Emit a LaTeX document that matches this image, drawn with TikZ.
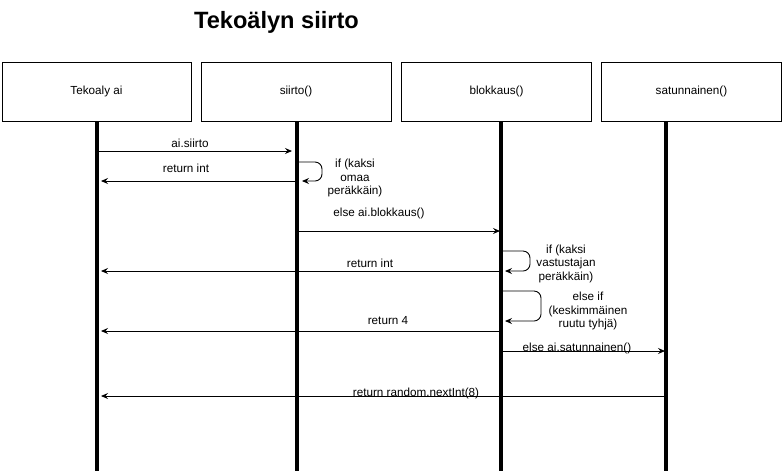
\documentclass[tikz,border=0pt]{standalone}
\usepackage{fontspec}
\setmainfont{Liberation Sans}
\usetikzlibrary{arrows.meta}
\begin{document}
\begin{tikzpicture}[x=1pt,y=-1pt,
  lbl/.style={font=\fontsize{11.7}{13.5}\selectfont, inner sep=0pt, align=center},
  objbox/.style={draw, line width=1pt, minimum height=59pt, inner sep=0pt, font=\fontsize{11.7}{13.5}\selectfont},
  life/.style={line width=3.6pt},
  msg/.style={line width=0.9pt, -{Stealth[length=7pt,width=6pt,inset=2.5pt]}},
  selfmsg/.style={line width=0.9pt, rounded corners=7pt, -{Stealth[length=7pt,width=6pt,inset=2.5pt]}}
]
\useasboundingbox (0,0) rectangle (783,475);
\node[font=\bfseries\fontsize{23.6}{28}\selectfont, inner sep=0pt] (title) at (276.5,22) {Tekoälyn siirto};
\node[objbox, minimum width=189pt] (b1) at (96.5,91.5) {Tekoaly ai};
\node[objbox, minimum width=190pt] (b2) at (296,91.5) {siirto()};
\node[objbox, minimum width=190pt] (b3) at (496.5,91.5) {blokkaus()};
\node[objbox, minimum width=180pt] (b4) at (691.5,91.5) {satunnainen()};
% lifelines
\coordinate (l1e) at (97,471);
\coordinate (l2e) at (297,471);
\coordinate (l3e) at (501,471);
\coordinate (l4e) at (666,471);
\draw[life] (b1.south -| l1e) -- (l1e);
\draw[life] (b2.south -| l2e) -- (l2e);
\draw[life] (b3.south -| l3e) -- (l3e);
\draw[life] (b4.south -| l4e) -- (l4e);
% message end points
\coordinate (m1a) at (99,151); \coordinate (m1b) at (292,151);
\coordinate (m2a) at (295,181); \coordinate (m2b) at (101,181);
\coordinate (s1a) at (299,162); \coordinate (s1c) at (322,181); \coordinate (s1b) at (302,181);
\coordinate (m3a) at (299,231); \coordinate (m3b) at (500,231);
\coordinate (s2a) at (503,251); \coordinate (s2c) at (530,271); \coordinate (s2b) at (505,271);
\coordinate (m4a) at (499,271); \coordinate (m4b) at (101,271);
\coordinate (s3a) at (503,291); \coordinate (s3c) at (541,321); \coordinate (s3b) at (505,321);
\coordinate (m5a) at (499,331); \coordinate (m5b) at (101,331);
\coordinate (m6a) at (503,351); \coordinate (m6b) at (665,351);
\coordinate (m7a) at (664,396); \coordinate (m7b) at (101,396);
% messages
\draw[msg] (m1a) -- (m1b);
\node[lbl] (t1) at (190,143) {ai.siirto};
\draw[msg] (m2a) -- (m2b);
\node[lbl] (t2) at (186,168) {return int};
\draw[selfmsg] (s1a) -| (s1c) -- (s1b);
\node[lbl] (t3) at (355,178) {if (kaksi\\omaa\\peräkkäin)};
\draw[msg] (m3a) -- (m3b);
\node[lbl] (t4) at (379,213) {else ai.blokkaus()};
\draw[selfmsg] (s2a) -| (s2c) -- (s2b);
\node[lbl] (t5) at (566,263.5) {if (kaksi\\vastustajan\\peräkkäin)};
\draw[msg] (m4a) -- (m4b);
\node[lbl] (t6) at (370,263) {return int};
\draw[selfmsg] (s3a) -| (s3c) -- (s3b);
\node[lbl] (t7) at (588,311) {else if\\(keskimmäinen\\ruutu tyhjä)};
\draw[msg] (m5a) -- (m5b);
\node[lbl] (t8) at (388,321) {return 4};
\draw[msg] (m6a) -- (m6b);
\node[lbl] (t9) at (577,348) {else ai.satunnainen()};
\draw[msg] (m7a) -- (m7b);
\node[lbl] (t10) at (416,393) {return random.nextInt(8)};
\end{tikzpicture}
\end{document}
